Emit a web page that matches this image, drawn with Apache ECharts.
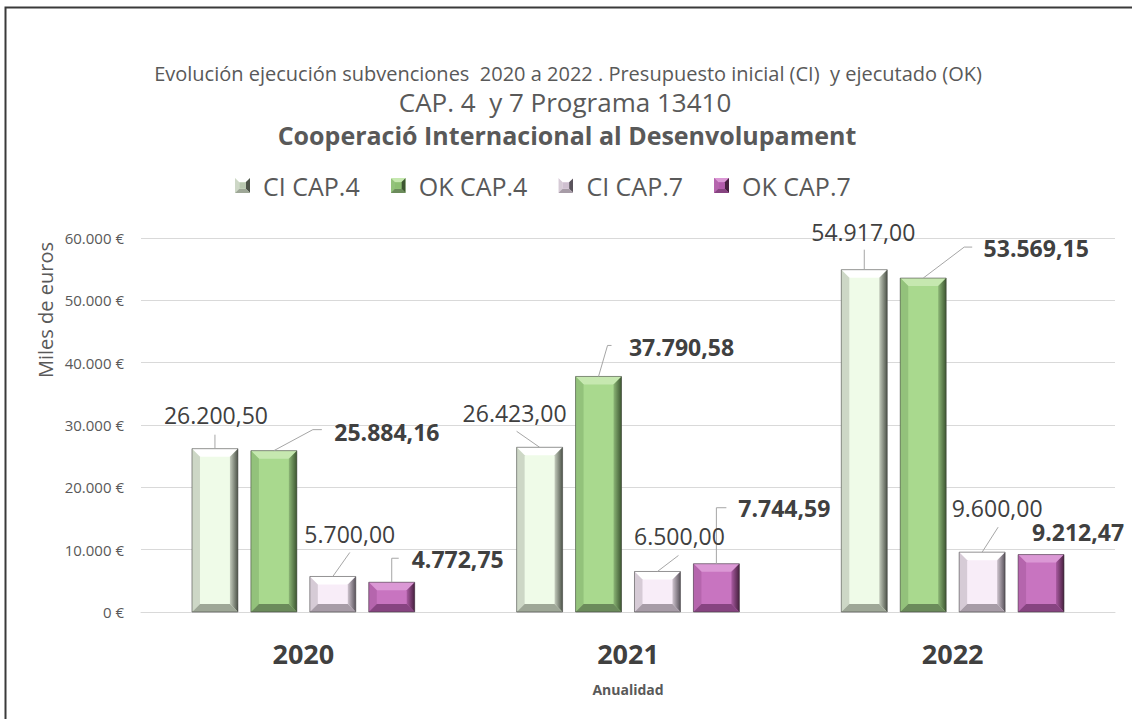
<!DOCTYPE html>
<html>
<head>
<meta charset="utf-8">
<script src="https://cdn.jsdelivr.net/npm/echarts@6/dist/echarts.min.js"></script>
<style>
html,body{margin:0;padding:0;background:#fff;}
#chart{width:1132px;height:719px;}
</style>
</head>
<body>
<div id="chart"></div>
<script>
// ---- data ----
const categories = ['2020', '2021', '2022'];
const seriesNames = ['CI CAP.4', 'OK CAP.4', 'CI CAP.7', 'OK CAP.7'];
const ciCap4 = [26200.50, 26423.00, 54917.00];
const okCap4 = [25884.16, 37790.58, 53569.15];
const ciCap7 = [5700.00, 6500.00, 9600.00];
const okCap7 = [4772.75, 7744.59, 9212.47];
const yMin = 0, yMax = 60000, yInterval = 10000;
const titleLine1 = 'Evolución ejecución subvenciones  2020 a 2022 . Presupuesto inicial (CI)  y ejecutado (OK)';
const titleLine2 = 'CAP. 4  y 7 Programa 13410';
const titleLine3 = 'Cooperació Internacional al Desenvolupament';
const yAxisTitle = 'Miles de euros';
const xAxisTitle = 'Anualidad';

// ---- styling (not data) ----
const FONT = '"Open Sans", "Noto Sans", sans-serif';
const palette = [
  {face:'#effbe8', top:'#ffffff', left:'#cdd7c6', bottom:'#9ea797', r1:'#c4ccbd', r2:'#4d5349', icon:'#b9c7b0'},
  {face:'#a9d98e', top:'#c6e8b0', left:'#93c27b', bottom:'#6b8b5b', r1:'#8cb676', r2:'#3d5631', icon:'#8dbf73'},
  {face:'#f8edf8', top:'#ffffff', left:'#d6cbd6', bottom:'#a79ca7', r1:'#cfc4cf', r2:'#59535b', icon:'#cfc0d0'},
  {face:'#c874c0', top:'#db98d5', left:'#b565ad', bottom:'#874481', r1:'#a95aa1', r2:'#47203f', icon:'#b35bab'}
];
const labelBold = [false, true, false, true];
// label centre offsets relative to bar-top centre (px)
const labelOffsets = [
  [[1,-34], [-25,-34], [-1,-38]],
  [[113,-19], [83,-29], [113,-30]],
  [[17,-42], [22,-35], [15,-44]],
  [[66,-23], [68,-56], [37,-23]]
];
// leader line points relative to bar-top centre (px)
const leaders = [
  [[[0,-14]], [[-23,-16]], [[0,-20]]],
  [[[39,-21],[48,-21]], [[9,-31],[13,-31]], [[41,-31],[49,-31]]],
  [[[17,-24]], [[21,-16]], [[16,-25]]],
  [[[0,-24],[7,-24]], [[0,-56],[10,-56]], []]
];
const BAR_FRAC = 0.1415, STEP_FRAC = 0.1815, BEVEL = 8;

const allValues = [ciCap4, okCap4, ciCap7, okCap7];

function fmtEs(v, dec) {
  const s = v.toFixed(dec);
  const parts = s.split('.');
  const intPart = parts[0].replace(/\B(?=(\d{3})+(?!\d))/g, '.');
  return dec > 0 ? intPart + ',' + parts[1] : intPart;
}

function bevelIcon(p) {
  const svg = '<svg xmlns="http://www.w3.org/2000/svg" width="14" height="14">' +
    '<rect width="14" height="14" fill="' + p.face + '"/>' +
    '<polygon points="0,0 14,0 10,4 4,4" fill="' + p.top + '"/>' +
    '<polygon points="0,0 4,4 4,10 0,14" fill="' + p.left + '"/>' +
    '<polygon points="14,0 14,14 10,10 10,4" fill="' + p.r2 + '"/>' +
    '<polygon points="0,14 14,14 10,10 4,10" fill="' + p.bottom + '"/>' +
    '<rect x="4" y="4" width="6" height="6" fill="' + p.icon + '"/>' +
    '</svg>';
  return 'image://data:image/svg+xml;charset=utf-8,' + encodeURIComponent(svg);
}

function makeRenderItem(sIdx) {
  const p = palette[sIdx];
  return function (params, api) {
    const ci = api.value(0);
    const val = api.value(1);
    const band = api.size([1, 0])[0];
    const w = band * BAR_FRAC;
    const step = band * STEP_FRAC;
    const topPt = api.coord([ci, val]);
    const basePt = api.coord([ci, 0]);
    const cx = topPt[0] + (sIdx - 1.5) * step;
    const x0 = cx - w / 2, x1 = cx + w / 2;
    const yT = topPt[1], yB = basePt[1];
    const b = Math.min(BEVEL, (yB - yT) / 2);
    const children = [
      {type:'rect', shape:{x:x0, y:yT, width:w, height:yB - yT}, style:{fill:p.face}},
      {type:'polygon', shape:{points:[[x0,yT],[x1,yT],[x1-b,yT+b],[x0+b,yT+b]]}, style:{fill:p.top}},
      {type:'polygon', shape:{points:[[x0,yT],[x0+b,yT+b],[x0+b,yB-b],[x0,yB]]}, style:{fill:p.left}},
      {type:'polygon', shape:{points:[[x1,yT],[x1,yB],[x1-b,yB-b],[x1-b,yT+b]]},
        style:{fill:{type:'linear', x:0, y:0, x2:1, y2:0, colorStops:[{offset:0, color:p.r1},{offset:1, color:p.r2}]}}},
      {type:'polygon', shape:{points:[[x0,yB],[x1,yB],[x1-b,yB-b],[x0+b,yB-b]]}, style:{fill:p.bottom}},
      {type:'rect', shape:{x:x0, y:yT, width:w, height:yB - yT}, style:{fill:null, stroke:'rgba(60,60,60,0.55)', lineWidth:1}}
    ];
    const off = labelOffsets[sIdx][params.dataIndex];
    const lead = leaders[sIdx][params.dataIndex];
    if (lead.length) {
      const pts = [[cx, yT]].concat(lead.map(function (q) { return [cx + q[0], yT + q[1]]; }));
      children.push({type:'polyline', shape:{points:pts}, style:{fill:null, stroke:'#a6a6a6', lineWidth:1}});
    }
    children.push({type:'text', z2:10, style:{
      text: fmtEs(val, 2), x: cx + off[0], y: yT + off[1],
      align:'center', verticalAlign:'middle',
      fontFamily: FONT, fontSize: 23, fontWeight: labelBold[sIdx] ? 'bold' : 'normal',
      fill:'#404040'
    }});
    return {type:'group', children:children};
  };
}

const chart = echarts.init(document.getElementById('chart'), null, {renderer:'svg'});

const series = seriesNames.map(function (name, sIdx) {
  return {
    type:'custom', name:name,
    renderItem: makeRenderItem(sIdx),
    encode:{x:0, y:1},
    itemStyle:{color:palette[sIdx].icon},
    data: allValues[sIdx].map(function (v, i) { return [i, v]; })
  };
});

const option = {
  backgroundColor:'#ffffff',
  animation:false,
  title:[
    {text:titleLine1, left:563, top:58, textAlign:'center',
      textStyle:{fontFamily:FONT, fontSize:20, fontWeight:'normal', color:'#595959'}},
    {text:titleLine2, left:560, top:84, textAlign:'center',
      textStyle:{fontFamily:FONT, fontSize:26, fontWeight:'normal', color:'#595959'}},
    {text:titleLine3, left:562, top:117, textAlign:'center',
      textStyle:{fontFamily:FONT, fontSize:25, fontWeight:'bold', color:'#595959'}}
  ],
  legend:{
    left:230, top:168, itemWidth:15, itemHeight:15, itemGap:31,
    data: seriesNames.map(function (n, i) { return {name:n, icon:bevelIcon(palette[i])}; }),
    textStyle:{fontFamily:FONT, fontSize:25, color:'#595959', padding:[0,0,0,8]}
  },
  grid:{left:141, right:17, top:238, bottom:107, containLabel:false},
  xAxis:{
    type:'category', data:categories,
    axisLine:{show:true, lineStyle:{color:'#d9d9d9'}},
    axisTick:{show:false},
    axisLabel:{fontFamily:FONT, fontSize:27, fontWeight:'bold', color:'#404040', margin:28}
  },
  yAxis:{
    type:'value', min:yMin, max:yMax, interval:yInterval,
    axisLine:{show:false}, axisTick:{show:false},
    splitLine:{lineStyle:{color:'#d9d9d9'}},
    axisLabel:{fontFamily:FONT, fontSize:15, color:'#595959', margin:17,
      formatter:function (v) { return fmtEs(v, 0) + ' €'; }}
  },
  graphic:[
    {type:'rect', left:3, top:5, shape:{width:1200, height:800}, style:{fill:null, stroke:'#3a3a3a', lineWidth:2}, silent:true},
    {type:'text', x:45, y:310, rotation:Math.PI/2,
      style:{text:yAxisTitle, align:'center', verticalAlign:'middle', fontFamily:FONT, fontSize:20, fill:'#595959'}},
    {type:'text', x:628, y:689,
      style:{text:xAxisTitle, align:'center', verticalAlign:'middle', fontFamily:FONT, fontSize:14, fontWeight:'bold', fill:'#595959'}}
  ],
  series:series
};
chart.setOption(option);
</script>
</body>
</html>
